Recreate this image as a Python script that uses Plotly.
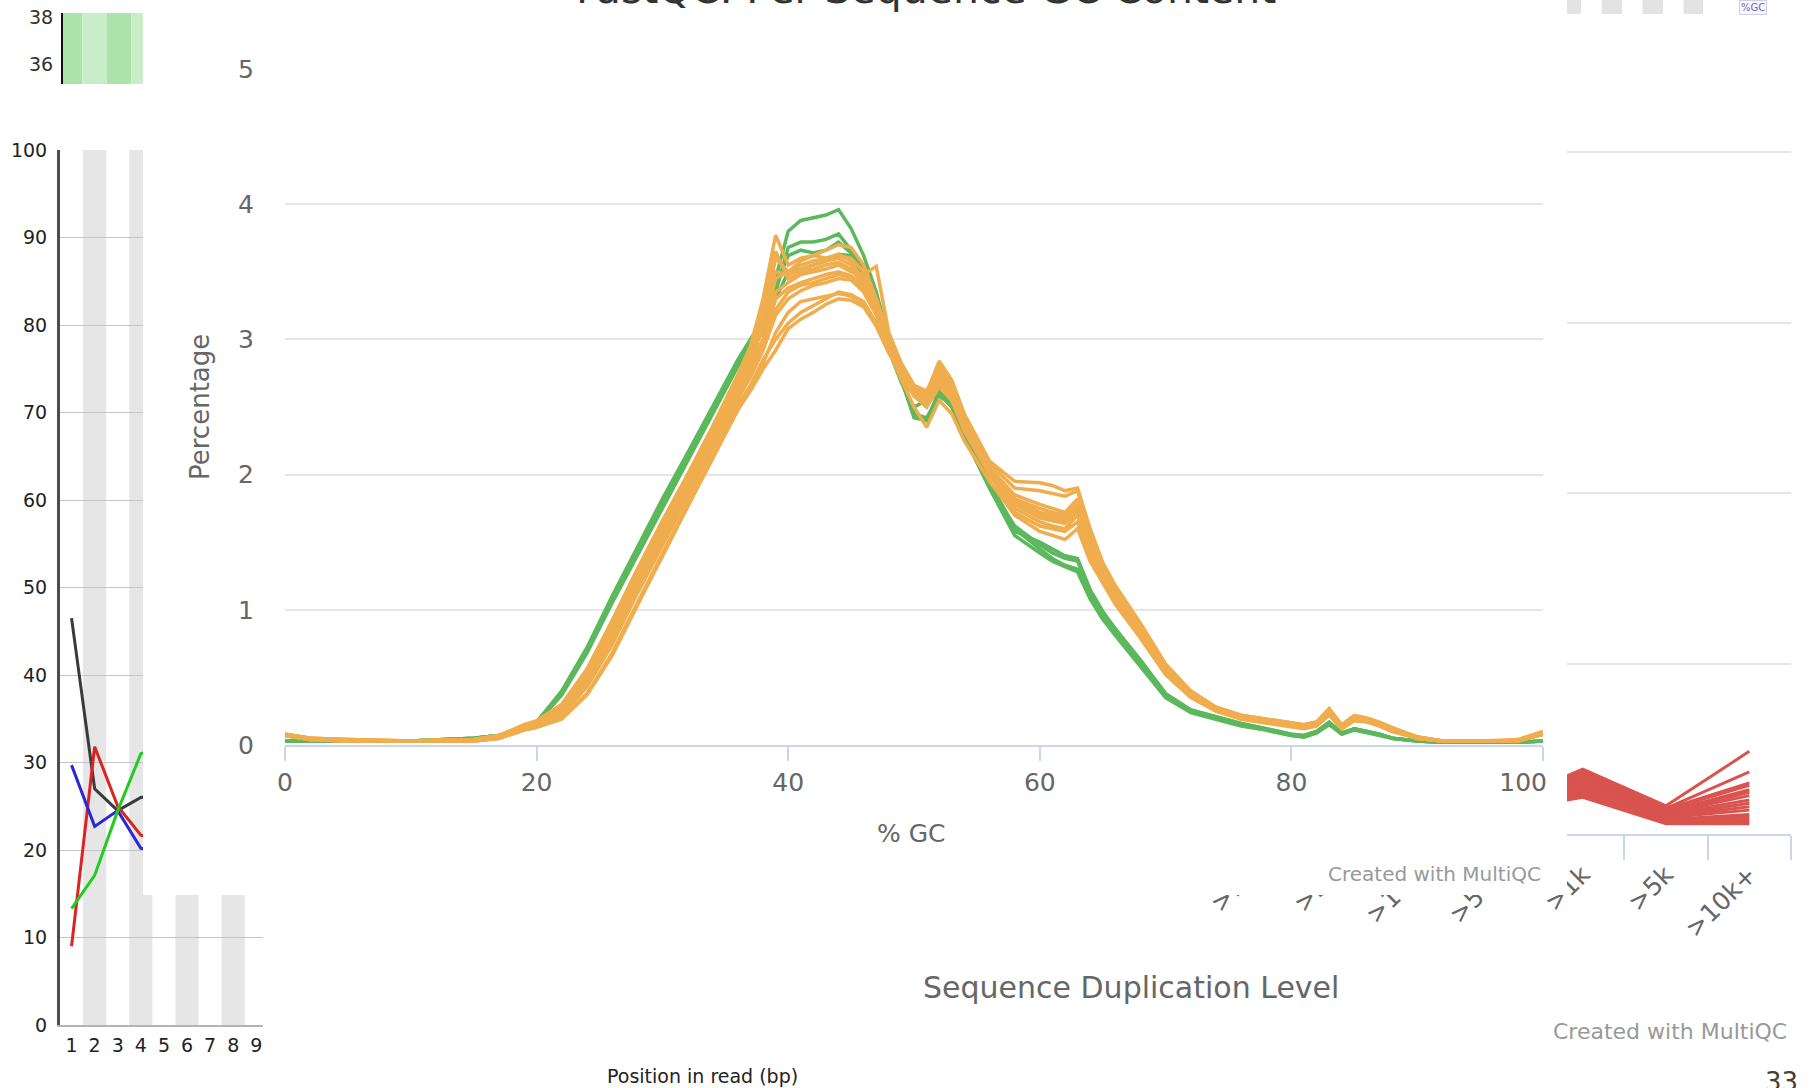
import plotly.graph_objects as go

W, H = 1810, 1088


def px(x):
    return x / W


def py(y):
    return 1 - y / H


HC_FONT = "DejaVu Sans"
FQ_FONT = "DejaVu Sans"

# ---------------- Main chart: FastQC Per Sequence GC Content ----------------
GC_PCT = [0, 2, 5, 10, 15, 17, 19, 20, 22, 24,
          26, 28, 30, 32, 34, 36, 37, 38, 39, 40,
          41, 42, 43, 44, 45, 46, 47, 48, 49, 50,
          51, 52, 53, 54, 56, 58, 60, 61, 62, 63,
          64, 65, 66, 68, 70, 72, 74, 76, 78, 80,
          81, 82, 83, 84, 85, 86, 87, 88, 90, 92,
          95, 98, 100]

# passing samples (green)
G1 = [.03, .03, .03, .03, .05, .07, .13, .17, .40, .72,
      1.10, 1.46, 1.82, 2.16, 2.50, 2.85, 3.00, 3.15, 3.45, 3.80,
      3.88, 3.90, 3.92, 3.96, 3.82, 3.62, 3.35, 3.00, 2.75, 2.45,
      2.40, 2.60, 2.55, 2.30, 1.95, 1.60, 1.45, 1.38, 1.33, 1.30,
      1.10, 0.95, 0.83, 0.60, 0.36, 0.25, 0.20, 0.15, 0.11, 0.07,
      0.06, 0.09, 0.16, 0.08, 0.12, 0.10, 0.08, 0.05, 0.03, 0.02,
      0.02, 0.02, 0.03]
G2 = [.03, .03, .03, .03, .05, .07, .13, .17, .39, .70,
      1.08, 1.44, 1.80, 2.14, 2.48, 2.82, 2.98, 3.10, 3.35, 3.68,
      3.72, 3.72, 3.74, 3.78, 3.66, 3.50, 3.25, 2.95, 2.70, 2.42,
      2.40, 2.62, 2.56, 2.32, 1.92, 1.62, 1.48, 1.42, 1.38, 1.36,
      1.14, 0.98, 0.86, 0.62, 0.38, 0.26, 0.21, 0.16, 0.12, 0.08,
      0.07, 0.10, 0.17, 0.09, 0.12, 0.10, 0.08, 0.05, 0.03, 0.02,
      0.02, 0.02, 0.03]
G3 = [.03, .03, .03, .03, .05, .07, .12, .16, .37, .68,
      1.05, 1.40, 1.76, 2.10, 2.45, 2.80, 2.95, 3.05, 3.30, 3.50,
      3.52, 3.55, 3.58, 3.63, 3.62, 3.46, 3.22, 2.92, 2.68, 2.50,
      2.55, 2.60, 2.50, 2.28, 1.90, 1.55, 1.42, 1.36, 1.32, 1.28,
      1.08, 0.93, 0.81, 0.58, 0.35, 0.24, 0.19, 0.14, 0.11, 0.07,
      0.06, 0.09, 0.15, 0.08, 0.11, 0.09, 0.07, 0.05, 0.03, 0.02,
      0.02, 0.02, 0.03]
G4 = [.03, .03, .03, .03, .05, .07, .13, .17, .38, .70,
      1.06, 1.42, 1.78, 2.12, 2.46, 2.82, 2.96, 3.12, 3.38, 3.62,
      3.66, 3.64, 3.66, 3.72, 3.64, 3.48, 3.24, 2.94, 2.70, 2.45,
      2.42, 2.58, 2.52, 2.30, 1.92, 1.58, 1.50, 1.45, 1.40, 1.38,
      1.15, 0.99, 0.86, 0.63, 0.38, 0.26, 0.21, 0.16, 0.12, 0.08,
      0.07, 0.10, 0.16, 0.09, 0.12, 0.10, 0.08, 0.05, 0.03, 0.02,
      0.02, 0.02, 0.03]

# warning samples (orange)
O1 = [.08, .05, .04, .03, .03, .06, .14, .17, .30, .56,
      .92, 1.30, 1.66, 2.00, 2.36, 2.74, 2.95, 3.30, 3.77, 3.55,
      3.60, 3.62, 3.60, 3.63, 3.58, 3.42, 3.20, 2.95, 2.80, 2.62,
      2.58, 2.78, 2.60, 2.35, 2.02, 1.80, 1.70, 1.66, 1.65, 1.72,
      1.40, 1.22, 1.08, 0.82, 0.55, 0.37, 0.26, 0.20, 0.17, 0.14,
      0.13, 0.15, 0.24, 0.13, 0.20, 0.18, 0.15, 0.12, 0.05, 0.03,
      0.03, 0.03, 0.09]
O2 = [.07, .05, .03, .03, .04, .06, .13, .16, .28, .53,
      .88, 1.26, 1.62, 1.97, 2.32, 2.70, 2.88, 3.15, 3.60, 3.50,
      3.58, 3.62, 3.66, 3.70, 3.68, 3.55, 3.30, 3.00, 2.80, 2.64,
      2.60, 2.82, 2.65, 2.38, 2.05, 1.85, 1.78, 1.75, 1.72, 1.82,
      1.50, 1.30, 1.12, 0.86, 0.58, 0.39, 0.27, 0.21, 0.18, 0.15,
      0.14, 0.16, 0.26, 0.14, 0.21, 0.19, 0.16, 0.12, 0.06, 0.03,
      0.03, 0.03, 0.08]
O3 = [.08, .05, .04, .03, .04, .07, .14, .17, .27, .50,
      .85, 1.22, 1.58, 1.93, 2.28, 2.65, 2.82, 3.00, 3.35, 3.42,
      3.48, 3.50, 3.52, 3.55, 3.50, 3.48, 3.54, 3.05, 2.82, 2.66,
      2.60, 2.84, 2.70, 2.45, 2.10, 1.95, 1.94, 1.92, 1.88, 1.90,
      1.60, 1.35, 1.18, 0.90, 0.60, 0.40, 0.28, 0.22, 0.19, 0.16,
      0.15, 0.17, 0.27, 0.15, 0.22, 0.20, 0.17, 0.13, 0.06, 0.03,
      0.03, 0.04, 0.10]
O4 = [.07, .04, .03, .03, .03, .05, .11, .13, .19, .37,
      .66, 1.03, 1.40, 1.76, 2.12, 2.48, 2.62, 2.78, 2.92, 3.08,
      3.15, 3.20, 3.26, 3.30, 3.29, 3.24, 3.10, 2.90, 2.75, 2.60,
      2.55, 2.75, 2.62, 2.42, 2.08, 1.90, 1.88, 1.86, 1.84, 1.88,
      1.55, 1.32, 1.15, 0.88, 0.58, 0.40, 0.28, 0.22, 0.19, 0.16,
      0.15, 0.17, 0.25, 0.14, 0.20, 0.19, 0.16, 0.12, 0.06, 0.03,
      0.03, 0.03, 0.08]
O5 = [.07, .04, .03, .03, .03, .05, .12, .14, .22, .43,
      .74, 1.12, 1.48, 1.83, 2.18, 2.52, 2.66, 2.85, 3.00, 3.12,
      3.20, 3.25, 3.30, 3.35, 3.33, 3.28, 3.12, 2.92, 2.76, 2.62,
      2.56, 2.72, 2.60, 2.40, 2.05, 1.82, 1.75, 1.72, 1.70, 1.78,
      1.48, 1.28, 1.12, 0.86, 0.57, 0.38, 0.27, 0.21, 0.18, 0.15,
      0.14, 0.16, 0.24, 0.13, 0.20, 0.18, 0.15, 0.11, 0.05, 0.03,
      0.03, 0.03, 0.08]
O6 = [.08, .05, .03, .03, .04, .06, .13, .15, .25, .48,
      .82, 1.20, 1.56, 1.90, 2.25, 2.62, 2.78, 2.98, 3.30, 3.38,
      3.42, 3.45, 3.48, 3.50, 3.47, 3.38, 3.20, 2.95, 2.78, 2.60,
      2.50, 2.68, 2.55, 2.32, 2.00, 1.72, 1.62, 1.60, 1.58, 1.65,
      1.40, 1.22, 1.06, 0.80, 0.53, 0.36, 0.25, 0.20, 0.17, 0.14,
      0.13, 0.15, 0.23, 0.12, 0.19, 0.18, 0.15, 0.11, 0.05, 0.03,
      0.03, 0.03, 0.08]
O7 = [.07, .04, .03, .03, .04, .06, .14, .16, .29, .55,
      .90, 1.28, 1.64, 1.98, 2.34, 2.72, 2.92, 3.25, 3.65, 3.45,
      3.50, 3.52, 3.55, 3.57, 3.52, 3.40, 3.22, 2.98, 2.80, 2.62,
      2.52, 2.72, 2.58, 2.35, 2.00, 1.75, 1.65, 1.62, 1.60, 1.70,
      1.42, 1.24, 1.08, 0.82, 0.55, 0.37, 0.26, 0.20, 0.17, 0.14,
      0.13, 0.15, 0.25, 0.13, 0.20, 0.18, 0.15, 0.11, 0.05, 0.03,
      0.03, 0.03, 0.09]
O8 = [.07, .04, .03, .03, .03, .05, .12, .14, .23, .45,
      .78, 1.15, 1.52, 1.86, 2.20, 2.56, 2.72, 2.92, 3.18, 3.30,
      3.36, 3.40, 3.42, 3.45, 3.44, 3.35, 3.18, 2.92, 2.70, 2.50,
      2.35, 2.55, 2.45, 2.25, 1.95, 1.70, 1.58, 1.55, 1.52, 1.60,
      1.36, 1.20, 1.04, 0.79, 0.52, 0.35, 0.25, 0.19, 0.16, 0.13,
      0.12, 0.14, 0.22, 0.12, 0.18, 0.17, 0.14, 0.10, 0.05, 0.03,
      0.03, 0.03, 0.08]
O9 = [.08, .05, .04, .03, .04, .07, .15, .18, .30, .56,
      .90, 1.28, 1.64, 1.99, 2.34, 2.70, 2.85, 3.08, 3.45, 3.50,
      3.55, 3.58, 3.60, 3.62, 3.60, 3.50, 3.30, 3.02, 2.82, 2.66,
      2.62, 2.80, 2.66, 2.42, 2.06, 1.82, 1.72, 1.70, 1.68, 1.76,
      1.46, 1.27, 1.10, 0.84, 0.56, 0.38, 0.27, 0.21, 0.18, 0.15,
      0.14, 0.16, 0.23, 0.13, 0.20, 0.19, 0.16, 0.12, 0.06, 0.03,
      0.03, 0.03, 0.09]
O10 = [.07, .04, .03, .03, .03, .05, .11, .13, .20, .38,
       .68, 1.05, 1.42, 1.78, 2.13, 2.48, 2.64, 2.82, 3.05, 3.20,
       3.28, 3.30, 3.32, 3.34, 3.32, 3.26, 3.10, 2.90, 2.74, 2.58,
       2.50, 2.65, 2.55, 2.35, 2.02, 1.78, 1.68, 1.66, 1.64, 1.72,
       1.45, 1.26, 1.10, 0.84, 0.56, 0.38, 0.27, 0.21, 0.18, 0.15,
       0.14, 0.16, 0.24, 0.13, 0.20, 0.18, 0.15, 0.11, 0.05, 0.03,
       0.03, 0.03, 0.08]
O11 = [.08, .05, .03, .03, .04, .06, .13, .16, .27, .52,
       .87, 1.25, 1.60, 1.95, 2.30, 2.68, 2.86, 3.12, 3.50, 3.48,
       3.52, 3.55, 3.58, 3.60, 3.55, 3.45, 3.25, 3.00, 2.80, 2.64,
       2.58, 2.76, 2.62, 2.40, 2.04, 1.80, 1.70, 1.68, 1.66, 1.74,
       1.46, 1.26, 1.10, 0.84, 0.56, 0.38, 0.27, 0.21, 0.18, 0.15,
       0.14, 0.16, 0.25, 0.14, 0.21, 0.19, 0.16, 0.12, 0.05, 0.03,
       0.03, 0.03, 0.09]
O12 = [.07, .04, .03, .03, .03, .05, .12, .15, .24, .46,
       .80, 1.17, 1.54, 1.88, 2.22, 2.60, 2.75, 2.95, 3.22, 3.35,
       3.40, 3.42, 3.45, 3.48, 3.46, 3.36, 3.20, 2.96, 2.78, 2.60,
       2.54, 2.70, 2.58, 2.36, 2.02, 1.78, 1.68, 1.66, 1.64, 1.75,
       1.44, 1.25, 1.09, 0.83, 0.55, 0.37, 0.26, 0.20, 0.17, 0.14,
       0.13, 0.15, 0.24, 0.13, 0.20, 0.18, 0.15, 0.11, 0.05, 0.03,
       0.03, 0.03, 0.08]

GREEN_SAMPLES = [G1, G2, G3, G4]
ORANGE_SAMPLES = [O1, O2, O3, O4, O5, O6, O7, O8, O9, O10, O11, O12]
for s in GREEN_SAMPLES + ORANGE_SAMPLES:
    assert len(s) == len(GC_PCT), len(s)

GC_TICKS = [0, 20, 40, 60, 80, 100]
# last label is nudged left (justified inside the chart), as in the original
GC_TICK_TEXT = ['0', '20', '40', '60', '80', '100' + '\u00a0' * 5]

# ---------------- Background: sequence duplication levels ----------------
DUP_LEVELS = ['1', '2', '3', '4', '5', '6', '7', '8', '9',
              '>10', '>50', '>100', '>500', '>1k', '>5k', '>10k+']
DUP_SHOWN = ['>500', '>1k', '>5k', '>10k+']
DUP_S1 = [3.4, 7.6, 3.3, 9.7]
DUP_S2 = [3.3, 7.4, 3.0, 7.3]
DUP_S3 = [3.5, 7.2, 2.9, 6.0]
DUP_S4 = [3.2, 7.0, 2.8, 5.7]
DUP_S5 = [3.4, 6.8, 2.6, 5.2]
DUP_S6 = [3.1, 6.6, 2.5, 4.9]
DUP_S7 = [3.3, 6.4, 2.4, 4.5]
DUP_S8 = [3.0, 6.2, 2.3, 4.0]
DUP_S9 = [3.2, 6.0, 2.1, 3.6]
DUP_S10 = [2.9, 5.8, 2.0, 3.2]
DUP_S11 = [3.1, 5.5, 1.9, 2.8]
DUP_S12 = [2.8, 5.2, 1.7, 2.3]
DUP_S13 = [3.0, 5.0, 1.6, 2.0]
DUP_S14 = [2.7, 4.8, 1.5, 1.7]
DUP_S15 = [2.9, 4.5, 1.3, 1.4]
DUP_S16 = [2.6, 4.3, 1.2, 1.2]
DUP_SAMPLES = [DUP_S1, DUP_S2, DUP_S3, DUP_S4, DUP_S5, DUP_S6, DUP_S7, DUP_S8,
               DUP_S9, DUP_S10, DUP_S11, DUP_S12, DUP_S13, DUP_S14, DUP_S15, DUP_S16]

# ---------------- Background: per base sequence content ----------------
READ_POS = [1, 2, 3, 4, 5]
PCT_G = [46.5, 27.0, 24.5, 26.0, 26.5]
PCT_T = [9.0, 31.8, 25.0, 21.7, 21.0]
PCT_C = [29.7, 22.7, 24.5, 20.2, 20.0]
PCT_A = [13.3, 17.1, 24.5, 31.0, 32.0]
READ_AXIS_POS = list(range(1, 56))

# ---------------- Background: per base quality (green zone) ----------------
QUAL_POS = [1, 2, 3, 4]
QUAL_ZONE_LOW = [28, 28, 28, 28]
QUAL_ZONE_SPAN = [12, 12, 12, 12]
QUAL_TICKS = [36, 38]

# ---------------- Background: top-right striped strip ----------------
TOP_BAND_POS = [0, 2, 4, 6]
TOP_BAND_H = [1, 1, 1, 1]

fig = go.Figure()

# 1) per base sequence content (lowest layer)
for vals, color in [(PCT_G, '#3a3a3a'), (PCT_T, '#dd2222'),
                    (PCT_C, '#2a2ad0'), (PCT_A, '#22cc22')]:
    fig.add_trace(go.Scatter(x=READ_POS, y=vals, mode='lines',
                             line=dict(color=color, width=3),
                             xaxis='x', yaxis='y', showlegend=False,
                             hoverinfo='skip'))
for p in READ_AXIS_POS:
    if p % 2 == 0:
        fig.add_shape(type='rect', xref='x', yref='y', x0=p - 0.5, x1=p + 0.5,
                      y0=0, y1=100, fillcolor='#e6e6e6', line_width=0,
                      layer='below')

# 2) per base quality snippet
fig.add_trace(go.Bar(x=QUAL_POS, y=QUAL_ZONE_SPAN, base=QUAL_ZONE_LOW, width=1,
                     marker=dict(color=['#abe3ab', '#c8edc8', '#abe3ab', '#c8edc8'],
                                 line=dict(width=0)),
                     xaxis='x2', yaxis='y2', showlegend=False, hoverinfo='skip'))

# 3) top-right strip
fig.add_trace(go.Bar(x=TOP_BAND_POS, y=TOP_BAND_H, width=1,
                     marker=dict(color='#e3e3e3', line=dict(width=0)),
                     xaxis='x3', yaxis='y3', showlegend=False, hoverinfo='skip'))

# 4) duplication chart card (occluding panel)
fig.add_trace(go.Scatter(x=[None], y=[None], xaxis='x4', yaxis='y4',
                         showlegend=False, hoverinfo='skip'))

# 5) duplication chart
for s in DUP_SAMPLES:
    fig.add_trace(go.Scatter(x=DUP_SHOWN, y=s, mode='lines',
                             line=dict(color='#d9534f', width=3),
                             xaxis='x5', yaxis='y5', showlegend=False,
                             hoverinfo='skip'))

# 6) GC content chart card (occluding panel)
fig.add_trace(go.Scatter(x=[None], y=[None], xaxis='x6', yaxis='y6',
                         showlegend=False, hoverinfo='skip'))

# 7) GC content chart
for s in GREEN_SAMPLES:
    fig.add_trace(go.Scatter(x=GC_PCT, y=s, mode='lines',
                             line=dict(color='#5cb85c', width=3.5),
                             xaxis='x7', yaxis='y7', showlegend=False,
                             hoverinfo='skip'))
for s in ORANGE_SAMPLES:
    fig.add_trace(go.Scatter(x=GC_PCT, y=s, mode='lines',
                             line=dict(color='#f0ad4e', width=3.5),
                             xaxis='x7', yaxis='y7', showlegend=False,
                             hoverinfo='skip'))

hidden = dict(visible=False, showgrid=False, zeroline=False, range=[0, 1],
              automargin=False)

fig.update_layout(
    template='none',
    width=W, height=H,
    margin=dict(l=0, r=0, t=0, b=0, pad=0, autoexpand=False),
    paper_bgcolor='white', plot_bgcolor='white',
    showlegend=False,
    # per base sequence content
    xaxis=dict(domain=[px(60), px(1342)], range=[0.5, 56], anchor='y',
               automargin=False,
               tickmode='array', tickvals=READ_AXIS_POS,
               ticktext=[str(p) for p in READ_AXIS_POS], tickangle=0,
               showgrid=False, zeroline=False, showline=True,
               linecolor='#b4b4b4', linewidth=2, ticks='',
               ticklabelstandoff=2,
               tickfont=dict(family=FQ_FONT, size=19, color='#222')),
    yaxis=dict(domain=[py(1025), py(150)], range=[0, 100], anchor='x',
               automargin=False,
               dtick=10, tick0=0, showgrid=True, gridcolor='#c4c4c4',
               gridwidth=1, zeroline=False, showline=True,
               linecolor='#4d4d4d', linewidth=3, ticks='',
               ticklabelstandoff=6,
               tickfont=dict(family=FQ_FONT, size=19, color='#222')),
    # per base quality snippet
    xaxis2=dict(domain=[px(63), px(143)], range=[0.714, 3.98], anchor='y2',
                automargin=False,
                showgrid=False, zeroline=False, showline=False,
                showticklabels=False, ticks=''),
    yaxis2=dict(domain=[py(84), py(13)], range=[35.15, 38.17], anchor='x2',
                automargin=False,
                tickmode='array', tickvals=QUAL_TICKS, showgrid=False,
                zeroline=False, showline=True, linecolor='#111',
                linewidth=2, ticks='', ticklabelstandoff=4,
                tickfont=dict(family=FQ_FONT, size=19, color='#333')),
    # top-right strip
    xaxis3=dict(domain=[px(1567), px(1703)], range=[-0.187, 6.45],
                anchor='y3', visible=False, automargin=False),
    yaxis3=dict(domain=[py(16), 1], range=[0, 1], anchor='x3', visible=False,
                automargin=False),
    # duplication card
    xaxis4=dict(domain=[px(263), 1], anchor='y4', **hidden),
    yaxis4=dict(domain=[py(1058), py(14)], anchor='x4', **hidden),
    # duplication chart
    xaxis5=dict(domain=[px(458), px(1791)], anchor='y5', type='category',
                automargin=False,
                categoryorder='array', categoryarray=DUP_LEVELS,
                range=[-0.5, 15.5], tickson='boundaries', ticks='outside',
                ticklen=24, tickwidth=2, tickcolor='#ccd6eb', showline=True,
                linecolor='#ccd6eb', linewidth=2, tickangle=-45,
                ticklabelstandoff=14,
                showgrid=False, zeroline=False,
                tickfont=dict(family=HC_FONT, size=25, color='#666')),
    yaxis5=dict(domain=[py(834), py(14)], anchor='x5', range=[0, 96.2],
                automargin=False,
                dtick=20, showgrid=True, gridcolor='#e6e6e6', gridwidth=2,
                zeroline=False, showline=False,
                tickfont=dict(family=HC_FONT, size=25, color='#666')),
    # GC card
    xaxis6=dict(domain=[px(143), px(1567)], anchor='y6', **hidden),
    yaxis6=dict(domain=[py(895), 1], anchor='x6', **hidden),
    # GC chart
    xaxis7=dict(domain=[px(285), px(1543)], anchor='y7', range=[0, 100],
                automargin=False,
                tickmode='array', tickvals=GC_TICKS, ticktext=GC_TICK_TEXT,
                ticks='outside',
                ticklen=14, tickwidth=2, tickcolor='#ccd6eb', showline=True,
                linecolor='#ccd6eb', linewidth=2, showgrid=False,
                zeroline=False,
                tickfont=dict(family=HC_FONT, size=25, color='#666')),
    yaxis7=dict(domain=[py(745), py(69)], anchor='x7', range=[0, 5],
                automargin=False,
                dtick=1, tick0=0, showgrid=True, gridcolor='#e6e6e6',
                gridwidth=2, zeroline=False, showline=False, ticks='',
                ticklabelstandoff=30,
                tickfont=dict(family=HC_FONT, size=25, color='#666')),
)


def note(text, x, y, size, color, family=HC_FONT, xanchor='center', **kw):
    fig.add_annotation(text=text, x=px(x), y=py(y), xref='paper', yref='paper',
                       xanchor=xanchor, yanchor='middle', showarrow=False,
                       font=dict(family=family, size=size, color=color), **kw)


note('FastQC: Per Sequence GC Content', 926, -11, 41, '#333333')
note('Percentage', 200, 407, 26, '#666666', textangle=-90)
note('% GC', 912, 833, 25, '#666666')
note('Created with MultiQC', 1543, 874, 20, '#999999', xanchor='right')
note('Sequence Duplication Level', 1131, 987, 30, '#666666')
note('Created with MultiQC', 1789, 1031, 22, '#999999', xanchor='right')
note('Position in read (bp)', 702, 1076, 19, '#222222', family=FQ_FONT)
note('33', 1781, 1082, 26, '#4a3f35')
note('%GC', 1753, 7, 10, '#6a6acd', bordercolor='#d0d0e0', borderwidth=1,
     bgcolor='#f6f6fb', borderpad=1)

fig.write_html("out.html", config={'displayModeBar': False},
               post_script="document.body.style.margin='0';"
                           "document.body.style.overflow='hidden';")
